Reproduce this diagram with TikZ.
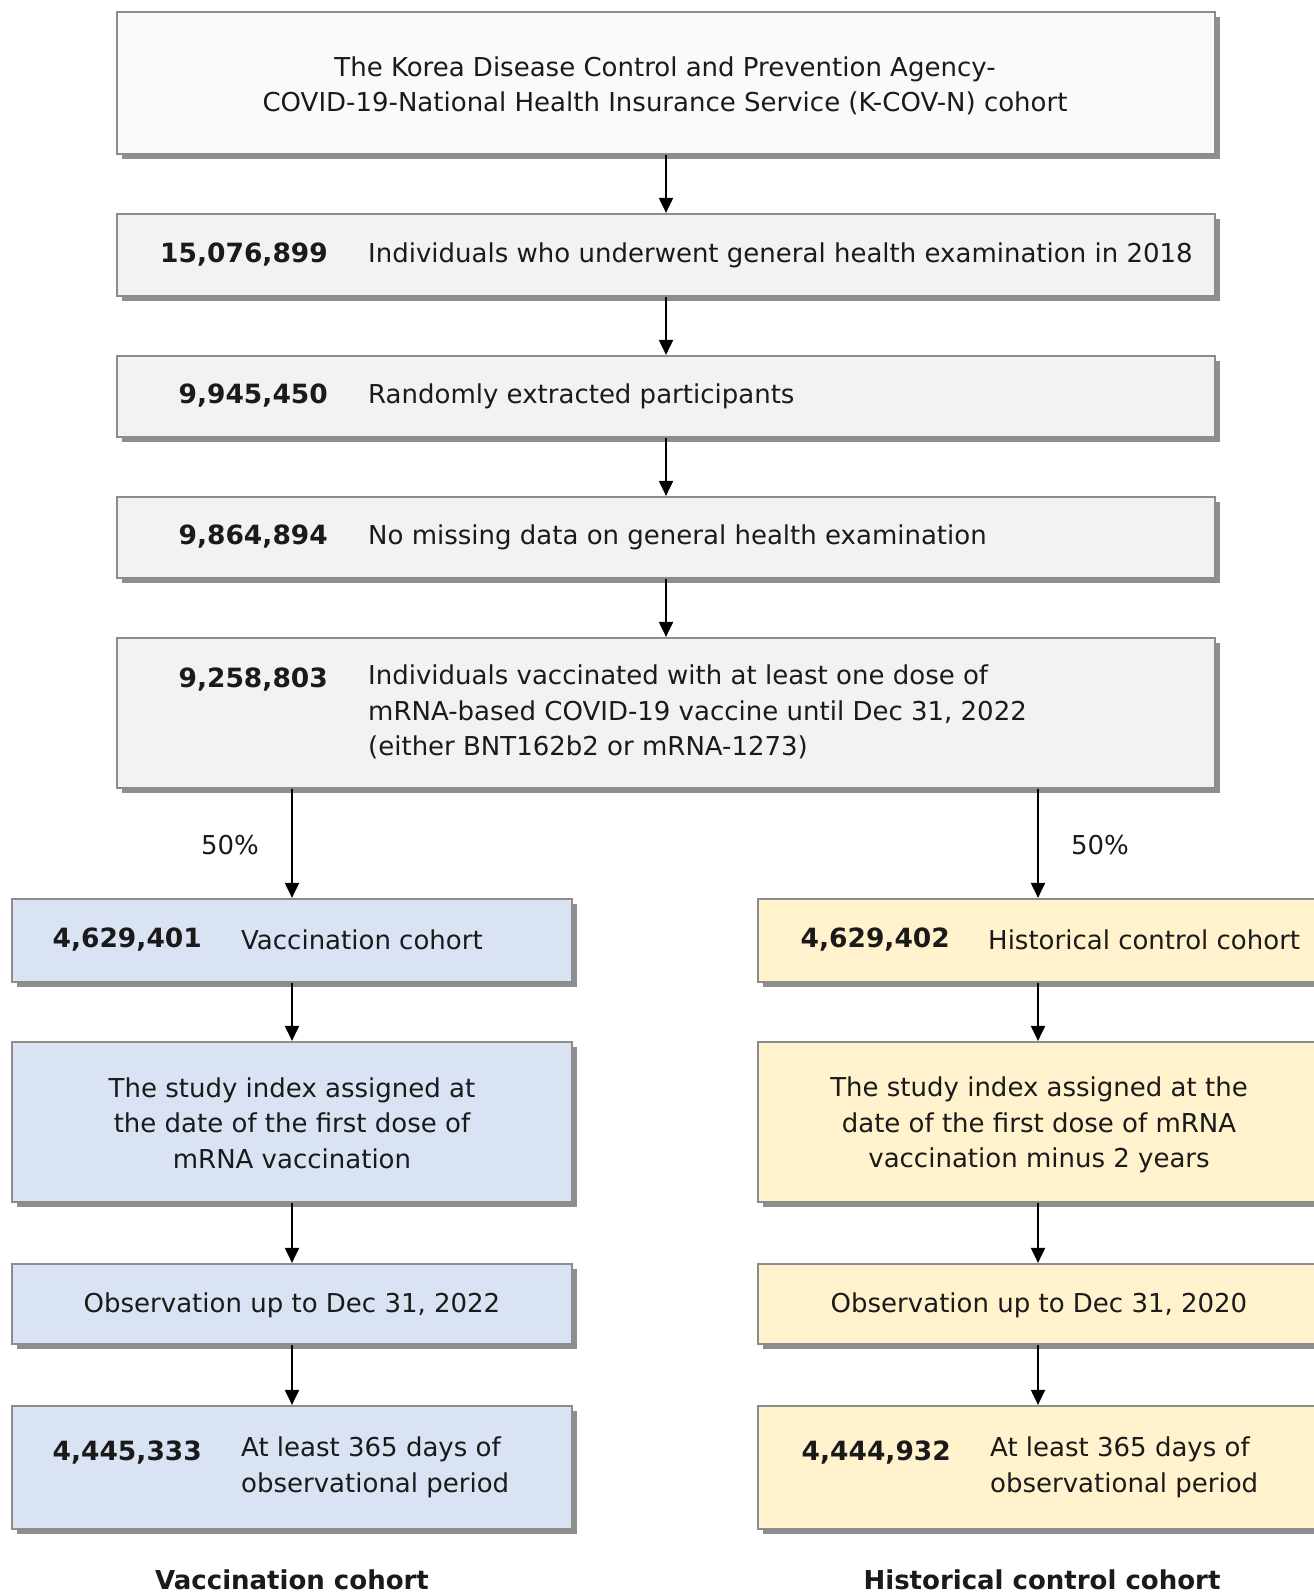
\documentclass[tikz,border=0pt]{standalone}
\usepackage{fontspec}
\setmainfont{DejaVu Sans}
\usetikzlibrary{arrows.meta,shadows}
\definecolor{bordergray}{HTML}{8C8C8C}
\definecolor{shadowgray}{HTML}{8E8E8E}
\definecolor{topfill}{HTML}{FAFAFA}
\definecolor{mainfill}{HTML}{F2F2F2}
\definecolor{bluefill}{HTML}{DAE3F3}
\definecolor{yellowfill}{HTML}{FFF2CC}
\definecolor{txt}{HTML}{1A1A1A}
\tikzset{
  box/.style={draw=bordergray, line width=2.2pt, rectangle, inner sep=0pt,
    drop shadow={shadow xshift=5pt, shadow yshift=-5pt, fill=shadowgray, opacity=1}},
  mainbox/.style={box, fill=mainfill},
  topbox/.style={box, fill=topfill},
  bluebox/.style={box, fill=bluefill},
  yellowbox/.style={box, fill=yellowfill},
  txtnode/.style={inner sep=0pt, text=txt, font=\fontsize{26}{35.5}\selectfont},
  numnode/.style={txtnode, font=\fontsize{26.5}{35.5}\selectfont\bfseries},
  conn/.style={line width=2pt, -{Triangle[width=14pt,length=15pt]}},
  pct/.style={txtnode},
  foot/.style={txtnode, font=\fontsize{26}{35.5}\selectfont\bfseries}
}
\newcommand{\mkbox}[6]{% style, name, x1, y1, x2, y2
  \node[#1, minimum width={#5-#3}, minimum height={#6-#4}] (#2) at ({(#3+#5)/2},{(#4+#6)/2}) {};}
\begin{document}
\begin{tikzpicture}[x=1pt,y=-1pt]
\useasboundingbox (0,0) rectangle (1314,1593);
% main column
\mkbox{topbox}{b1}{117}{12}{1215}{154}
\mkbox{mainbox}{b2}{117}{214}{1215}{296}
\mkbox{mainbox}{b3}{117}{356}{1215}{437}
\mkbox{mainbox}{b4}{117}{497}{1215}{578}
\mkbox{mainbox}{b5}{117}{638}{1215}{788}
% left column
\mkbox{bluebox}{l1}{12}{899}{572}{982}
\mkbox{bluebox}{l2}{12}{1042}{572}{1202}
\mkbox{bluebox}{l3}{12}{1264}{572}{1344}
\mkbox{bluebox}{l4}{12}{1406}{572}{1529}
% right column
\mkbox{yellowbox}{r1}{758}{899}{1318}{982}
\mkbox{yellowbox}{r2}{758}{1042}{1318}{1202}
\mkbox{yellowbox}{r3}{758}{1264}{1318}{1344}
\mkbox{yellowbox}{r4}{758}{1406}{1318}{1529}

% texts
\node[txtnode, align=center] (t1) at (665,86) {The Korea Disease Control and Prevention Agency-\\COVID-19-National Health Insurance Service (K-COV-N) cohort};
\node[numnode, anchor=east] (n2) at (328,255) {15,076,899};
\node[txtnode, anchor=west] (t2) at (368,255) {Individuals who underwent general health examination in 2018};
\node[numnode, anchor=east] (n3) at (328,396) {9,945,450};
\node[txtnode, anchor=west] (t3) at (368,396) {Randomly extracted participants};
\node[numnode, anchor=east] (n4) at (328,537) {9,864,894};
\node[txtnode, anchor=west] (t4) at (368,537) {No missing data on general health examination};
\node[numnode, anchor=base east] (n5) at (328,687) {9,258,803};
\node[txtnode, anchor=north west, align=left] (t5) at (368,665) {Individuals vaccinated with at least one dose of\\mRNA-based COVID-19 vaccine until Dec 31, 2022\\(either BNT162b2 or mRNA-1273)};

\node[pct] (p1) at (230,845) {50\%};
\node[pct] (p2) at (1100,845) {50\%};

\node[numnode, anchor=east] (nl1) at (202,940) {4,629,401};
\node[txtnode, anchor=west] (tl1) at (241,940) {Vaccination cohort};
\node[numnode, anchor=east] (nr1) at (950,940) {4,629,402};
\node[txtnode, anchor=west] (tr1) at (988,940) {Historical control cohort};

\node[txtnode, align=center] (tl2) at (292,1123) {The study index assigned at\\the date of the first dose of\\mRNA vaccination};
\node[txtnode, align=center] (tr2) at (1039,1125) {The study index assigned at the\\date of the first dose of mRNA\\vaccination minus 2 years};

\node[txtnode] (tl3) at (292,1305) {Observation up to Dec 31, 2022};
\node[txtnode] (tr3) at (1039,1305) {Observation up to Dec 31, 2020};

\node[numnode, anchor=base east] (nl4) at (202,1460) {4,445,333};
\node[txtnode, anchor=north west, align=left] (tl4) at (241,1437) {At least 365 days of\\observational period};
\node[numnode, anchor=base east] (nr4) at (951,1460) {4,444,932};
\node[txtnode, anchor=north west, align=left] (tr4) at (990,1437) {At least 365 days of\\observational period};

\node[foot] (f1) at (292,1580) {Vaccination cohort};
\node[foot] (f2) at (1042,1580) {Historical control cohort};

% connectors
\draw[conn] (b1.south) -- (b2.north);
\draw[conn] (b2.south) -- (b3.north);
\draw[conn] (b3.south) -- (b4.north);
\draw[conn] (b4.south) -- (b5.north);
\draw[conn] (b5.south -| l1.north) -- (l1.north);
\draw[conn] (b5.south -| r1.north) -- (r1.north);
\draw[conn] (l1.south) -- (l2.north);
\draw[conn] (l2.south) -- (l3.north);
\draw[conn] (l3.south) -- (l4.north);
\draw[conn] (r1.south) -- (r2.north);
\draw[conn] (r2.south) -- (r3.north);
\draw[conn] (r3.south) -- (r4.north);
\end{tikzpicture}
\end{document}
